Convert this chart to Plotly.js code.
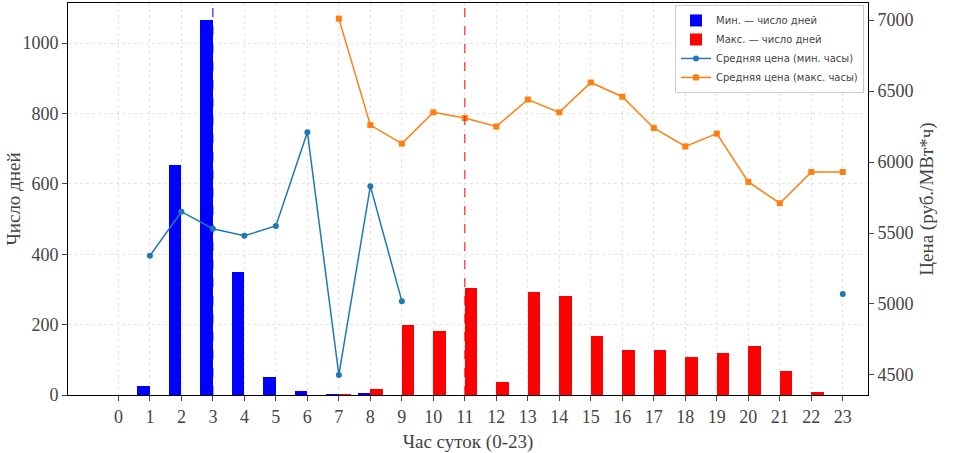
<!DOCTYPE html>
<html><head><meta charset="utf-8">
<script src="https://cdn.plot.ly/plotly-3.0.1.min.js"></script>
<style>body{margin:0}</style></head>
<body><div id="chart" style="width:957px;height:453px"></div>
<script>
const hours = Array.from({length:24},(_,i)=>i);
const minHours = [1,2,3,4,5,6,7,8];
const minDays  = [25,655,1065,350,50,12,2,3];
const maxHours = [7,8,9,10,11,12,13,14,15,16,17,18,19,20,21,22];
const maxDays  = [2,18,200,183,305,37,292,280,167,128,127,107,118,138,67,8];
const minPriceHours = [1,2,3,4,5,6,7,8,9,10,11,12,13,14,15,16,17,18,19,20,21,22,23];
const minPrice = [5340,5650,5530,5480,5550,6210,4500,5830,5020,null,null,null,null,null,null,null,null,null,null,null,null,null,5070];
const maxPriceHours = [7,8,9,10,11,12,13,14,15,16,17,18,19,20,21,22,23];
const maxPrice = [7010,6260,6130,6350,6310,6250,6440,6350,6560,6460,6240,6110,6200,5860,5710,5930,5930];

const serif = 'Liberation Serif, Times New Roman, serif';
const traces = [
  {type:'bar', name:'Мин. — число дней', x:minHours, y:minDays, width:0.4, offset:-0.4,
   marker:{color:'#0000ff'}},
  {type:'bar', name:'Макс. — число дней', x:maxHours, y:maxDays, width:0.4, offset:0,
   marker:{color:'#ff0000'}},
  {type:'scatter', mode:'lines+markers', name:'Средняя цена (мин. часы)', x:minPriceHours, y:minPrice,
   yaxis:'y2', line:{color:'#1f77b4', width:1.5}, marker:{size:6, color:'#1f77b4'}},
  {type:'scatter', mode:'lines+markers', name:'Средняя цена (макс. часы)', x:maxPriceHours, y:maxPrice,
   yaxis:'y2', line:{color:'#ff7f0e', width:1.5}, marker:{size:6, symbol:'square', color:'#ff7f0e'}},
];
const layout = {
  width:957, height:453, margin:{l:68, r:89, t:3, b:58},
  paper_bgcolor:'#fff', plot_bgcolor:'#fff', bargap:0,
  showlegend:true,
  legend:{x:0.995, y:0.995, xanchor:'right', yanchor:'top', bgcolor:'rgba(255,255,255,0.9)',
    bordercolor:'#ccc', borderwidth:1, font:{family:'DejaVu Sans', size:10}, tracegroupgap:0},
  xaxis:{range:[-1.6,23.8], tickvals:hours, ticktext:hours.map(String), showgrid:true,
    gridcolor:'rgba(0,0,0,0.1)', griddash:'dot', zeroline:false, showline:true, linecolor:'#000',
    mirror:true, ticks:'outside', tickfont:{family:serif, size:18},
    title:{text:'Час суток (0-23)', font:{family:serif, size:19}}},
  yaxis:{range:[0,1114], dtick:200, showgrid:true, gridcolor:'rgba(0,0,0,0.1)', griddash:'dot',
    zeroline:false, showline:true, linecolor:'#000', ticks:'outside', tickfont:{family:serif, size:18},
    title:{text:'Число дней', font:{family:serif, size:19}}},
  yaxis2:{overlaying:'y', side:'right', range:[4359,7120], dtick:500, showgrid:false, zeroline:false,
    showline:true, linecolor:'#000', ticks:'outside', tickfont:{family:serif, size:18},
    title:{text:'Цена (руб./МВт*ч)', font:{family:serif, size:19}}},
  shapes:[
    {type:'line', xref:'x', yref:'paper', x0:3, x1:3, y0:0, y1:1, layer:'below', line:{color:'#0000ff', width:1, dash:'dash'}},
    {type:'line', xref:'x', yref:'paper', x0:11, x1:11, y0:0, y1:1, line:{color:'#ff0000', width:1, dash:'dash'}},
  ],
};
Plotly.newPlot('chart', traces, layout, {displayModeBar:false});
</script></body></html>
